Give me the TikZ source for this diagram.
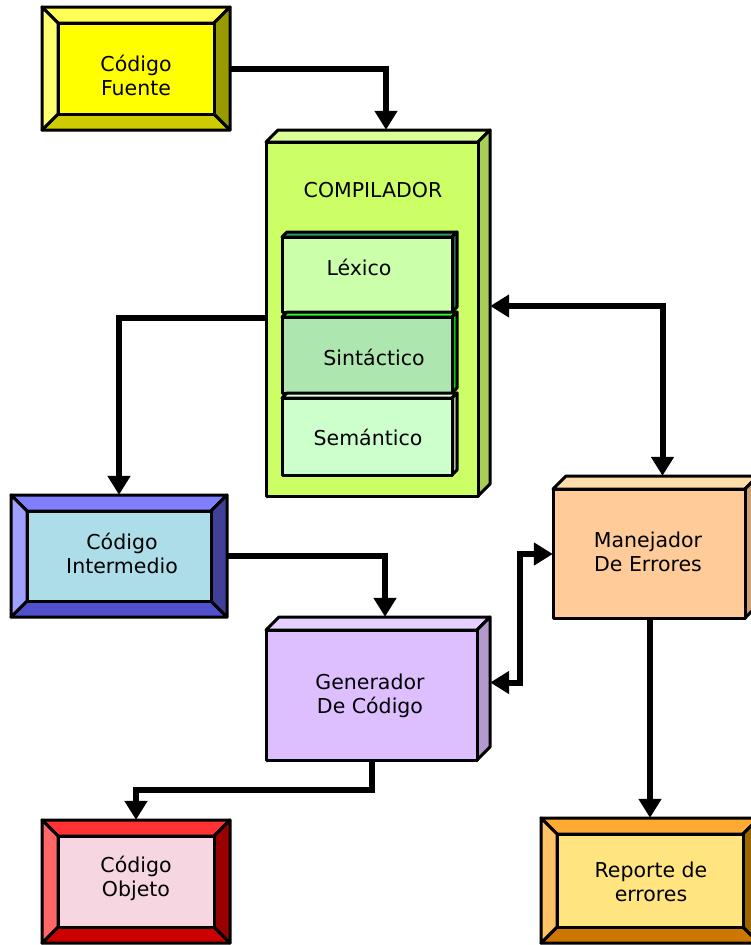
\documentclass[tikz,border=0pt]{standalone}
\usepackage{fontspec}
\setmainfont{DejaVu Sans}
\usetikzlibrary{arrows.meta,calc}

% bevel colours
\definecolor{yface}{HTML}{FFFF00}\definecolor{ytop}{HTML}{FFFF55}\definecolor{yleft}{HTML}{FFFF70}\definecolor{yright}{HTML}{999900}\definecolor{ybot}{HTML}{CCCC00}
\definecolor{bface}{HTML}{ADDDE8}\definecolor{btop}{HTML}{8080FF}\definecolor{bleft}{HTML}{A0A0FF}\definecolor{bright}{HTML}{404099}\definecolor{bbot}{HTML}{5050CC}
\definecolor{rface}{HTML}{F5D6E1}\definecolor{rtop}{HTML}{FF3333}\definecolor{rleft}{HTML}{FF6666}\definecolor{rright}{HTML}{990000}\definecolor{rbot}{HTML}{CC0000}
\definecolor{oface}{HTML}{FFE480}\definecolor{otop}{HTML}{FFAA33}\definecolor{oleft}{HTML}{FFC266}\definecolor{oright}{HTML}{996600}\definecolor{obot}{HTML}{CC7700}
% cube colours
\definecolor{cfront}{HTML}{CCFF66}\definecolor{ctop}{HTML}{DDFF99}\definecolor{cside}{HTML}{A6D055}
\definecolor{lfront}{HTML}{CCFFAA}\definecolor{ltop}{HTML}{339966}\definecolor{lside}{HTML}{336655}
\definecolor{sfront}{HTML}{AEE6B0}\definecolor{stop}{HTML}{33EE33}\definecolor{sside}{HTML}{00CC00}
\definecolor{mfront}{HTML}{CCFFCC}\definecolor{mtop}{HTML}{E0FFE0}\definecolor{mside}{HTML}{A0C0A0}
\definecolor{gfront}{HTML}{DDBFFF}\definecolor{gtop}{HTML}{E6D0FF}\definecolor{gside}{HTML}{B399CC}
\definecolor{efront}{HTML}{FFCC99}\definecolor{etop}{HTML}{FFDDAA}\definecolor{eside}{HTML}{CCA070}

\newcommand\bevbox[6]{%
 \begin{scope}[line width=3pt, line join=round, draw=black]
 \filldraw[fill=#6top] (#2,#3) -- (#4,#3) -- ({#4-16},{#3+16}) -- ({#2+16},{#3+16}) -- cycle;
 \filldraw[fill=#6bot] (#2,#5) -- (#4,#5) -- ({#4-16},{#5-16}) -- ({#2+16},{#5-16}) -- cycle;
 \filldraw[fill=#6left] (#2,#3) -- ({#2+16},{#3+16}) -- ({#2+16},{#5-16}) -- (#2,#5) -- cycle;
 \filldraw[fill=#6right] (#4,#3) -- ({#4-16},{#3+16}) -- ({#4-16},{#5-16}) -- (#4,#5) -- cycle;
 \filldraw[fill=#6face] ({#2+16},{#3+16}) rectangle ({#4-16},{#5-16});
 \end{scope}
 \node[inner sep=0pt, minimum width={#4pt-#2pt}, minimum height={#5pt-#3pt}] (#1) at ({(#2+#4)/2},{(#3+#5)/2}) {};
}
\newcommand\cubebox[8]{%
 \begin{scope}[line width=#8, line join=round, draw=black]
 \filldraw[fill=#7top] (#2,#3) -- ({#2+#6},{#3-#6}) -- ({#4+#6},{#3-#6}) -- (#4,#3) -- cycle;
 \filldraw[fill=#7side] (#4,#3) -- ({#4+#6},{#3-#6}) -- ({#4+#6},{#5-#6}) -- (#4,#5) -- cycle;
 \filldraw[fill=#7front] (#2,#3) rectangle (#4,#5);
 \end{scope}
 \node[inner sep=0pt, minimum width={#4pt+#6pt-#2pt}, minimum height={#5pt+#6pt-#3pt}] (#1) at ({(#2+#4+#6)/2},{(#3-#6+#5)/2}) {};
}

\tikzset{
 lbl/.style={font=\fontsize{20.5}{24}\selectfont, align=center, inner sep=0pt},
 conn/.style={line width=6pt, -{Triangle[length=19pt,width=22pt]}},
 dconn/.style={line width=6pt, {Triangle[length=19pt,width=22pt]}-{Triangle[length=19pt,width=22pt]}}
}

\begin{document}
\begin{tikzpicture}[x=1pt,y=-1pt]
\useasboundingbox (0,0) rectangle (751,945);
\fill[white] (0,0) rectangle (751,945);

% bevel boxes
\bevbox{cf}{42}{7}{230}{130}{y}
\bevbox{ci}{11}{495}{227}{617}{b}
\bevbox{co}{42}{820}{230}{943}{r}
\bevbox{rep}{541}{818}{759}{943}{o}

% cubes
\cubebox{comp}{266}{142}{478}{496}{12}{c}{3pt}
\cubebox{lex}{282}{237}{452}{312}{5}{l}{3pt}
\cubebox{sin}{282}{317}{452}{393}{5}{s}{3pt}
\cubebox{sem}{282}{398}{452}{475}{5}{m}{3pt}
\cubebox{gen}{266}{630}{477}{760}{13}{g}{3pt}
\cubebox{man}{553}{489}{745}{618}{13}{e}{3pt}

% labels
\node[lbl] (cft) at (136,75) {Código\\Fuente};
\node[lbl] (cit) at (122,553) {Código\\Intermedio};
\node[lbl] (cot) at (136,878) {Código\\Objeto};
\node[lbl] (rept) at (651,882) {Reporte de\\errores};
\node[lbl] (compt) at (373,190) {COMPILADOR};
\node[lbl] (lext) at (359,267) {Léxico};
\node[lbl] (sint) at (374,357) {Sintáctico};
\node[lbl] (semt) at (368,437) {Semántico};
\node[lbl] (gent) at (370,696) {Generador\\De Código};
\node[lbl] (mant) at (648,552) {Manejador\\De Errores};

% connectors
\draw[conn] (cf.east) -| ([xshift=8pt]comp.north);
\draw[conn] ([yshift=-5pt]comp.west) -| (ci.north);
\draw[dconn] ([yshift=7pt]comp.east) -| ([xshift=7pt]man.north);
\draw[conn] (ci.east) -| ([xshift=7pt]gen.north);
\draw[dconn] ([yshift=-7pt]man.west) -- ++(-33,0) |- ([yshift=6pt]gen.east);
\draw[conn] ([xshift=-6pt]gen.south) -- ++(0,30) -| (co.north);
\draw[conn] (man.south -| rep.north) -- (rep.north);
\end{tikzpicture}
\end{document}
